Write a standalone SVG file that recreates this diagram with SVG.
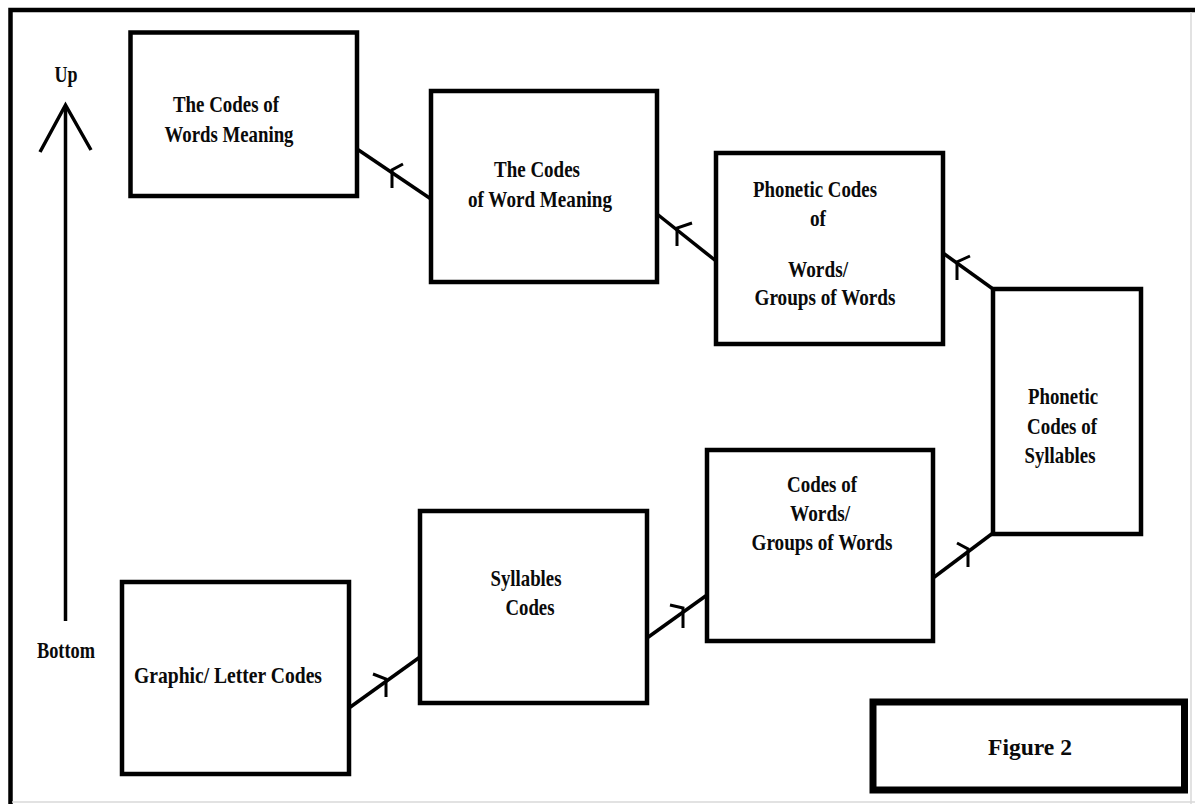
<svg xmlns="http://www.w3.org/2000/svg" width="1195" height="804" viewBox="0 0 1195 804">
  <style>
    .box { fill: #ffffff; stroke: #000000; stroke-width: 4.5; }
    .fig { fill: #ffffff; stroke: #000000; stroke-width: 7; }
    .lbl { font-family: "Liberation Serif", "Times New Roman", serif; font-weight: bold; font-size: 22.5px; fill: #0a0a0a; text-anchor: middle; }
    .conn { fill: none; stroke: #000000; stroke-width: 3.5; stroke-linejoin: miter; }
    .head { fill: none; stroke: #000000; stroke-width: 3; }
  </style>

  <rect x="0" y="0" width="1195" height="804" fill="#ffffff"/>

  <!-- page frame -->
  <g id="frame">
    <path d="M10.5,804 L10.5,10 L1195,10" fill="none" stroke="#000000" stroke-width="4.5"/>
    <line x1="1191" y1="12" x2="1191" y2="804" stroke="#d8d8d8" stroke-width="1.5"/>
    <line x1="12" y1="802" x2="1195" y2="802" stroke="#d8d8d8" stroke-width="1.5"/>
  </g>

  <!-- vertical direction axis -->
  <g id="axis">
    <line x1="65.5" y1="106" x2="65.5" y2="621" stroke="#000000" stroke-width="3.5"/>
    <path d="M40,152 L65.5,105 L91,150" fill="none" stroke="#000000" stroke-width="3.5"/>
    <text class="lbl" x="66" y="82" font-size="21" textLength="23" lengthAdjust="spacingAndGlyphs">Up</text>
    <text class="lbl" x="66" y="658" font-size="21" textLength="58" lengthAdjust="spacingAndGlyphs">Bottom</text>
  </g>

  <g id="connectors">
    <!-- Graphic/ Letter Codes -> Syllables Codes -->
    <line class="conn" x1="349" y1="708" x2="420" y2="657"/>
    <path class="head" d="M373,674 L386,679 L386,697"/>
    <!-- Syllables Codes -> Codes of Words -->
    <line class="conn" x1="647" y1="638" x2="707" y2="595"/>
    <path class="head" d="M670,605 L683,608 L683,628"/>
    <!-- Codes of Words -> Phonetic Codes of Syllables -->
    <line class="conn" x1="933" y1="578" x2="993" y2="533"/>
    <path class="head" d="M957,543 L968,549 L968,567"/>
    <!-- Phonetic Codes of Syllables -> Phonetic Codes of Words -->
    <line class="conn" x1="993" y1="289" x2="943" y2="253"/>
    <path class="head" d="M970,256 L957,262 L957,280"/>
    <!-- Phonetic Codes of Words -> The Codes of Word Meaning -->
    <line class="conn" x1="716" y1="261" x2="657" y2="214"/>
    <path class="head" d="M692,223 L677,228 L677,246"/>
    <!-- The Codes of Word Meaning -> The Codes of Words Meaning -->
    <line class="conn" x1="431" y1="199" x2="357" y2="149"/>
    <path class="head" d="M403,164 L392,170 L392,188"/>
  </g>

  <g id="node-words-meaning">
    <rect class="box" x="130.5" y="32.5" width="226.5" height="163.5"/>
    <text class="lbl" x="226" y="112" textLength="106" lengthAdjust="spacingAndGlyphs">The Codes of</text>
    <text class="lbl" x="229" y="142" textLength="129" lengthAdjust="spacingAndGlyphs">Words Meaning</text>
  </g>

  <g id="node-word-meaning">
    <rect class="box" x="431" y="91" width="226" height="191"/>
    <text class="lbl" x="537" y="177" textLength="86" lengthAdjust="spacingAndGlyphs">The Codes</text>
    <text class="lbl" x="540" y="207" textLength="144" lengthAdjust="spacingAndGlyphs">of Word Meaning</text>
  </g>

  <g id="node-phonetic-words">
    <rect class="box" x="716" y="153" width="227" height="191"/>
    <text class="lbl" x="815" y="197" textLength="124" lengthAdjust="spacingAndGlyphs">Phonetic Codes</text>
    <text class="lbl" x="818" y="226" textLength="16" lengthAdjust="spacingAndGlyphs">of</text>
    <text class="lbl" x="818" y="277" textLength="60" lengthAdjust="spacingAndGlyphs">Words/</text>
    <text class="lbl" x="825" y="305" textLength="141" lengthAdjust="spacingAndGlyphs">Groups of Words</text>
  </g>

  <g id="node-phonetic-syllables">
    <rect class="box" x="993" y="289" width="148" height="245"/>
    <text class="lbl" x="1063" y="404" textLength="70" lengthAdjust="spacingAndGlyphs">Phonetic</text>
    <text class="lbl" x="1062" y="434" textLength="70" lengthAdjust="spacingAndGlyphs">Codes of</text>
    <text class="lbl" x="1060" y="463" textLength="71" lengthAdjust="spacingAndGlyphs">Syllables</text>
  </g>

  <g id="node-codes-words">
    <rect class="box" x="707" y="450" width="226" height="191"/>
    <text class="lbl" x="822" y="492" textLength="70" lengthAdjust="spacingAndGlyphs">Codes of</text>
    <text class="lbl" x="820" y="521" textLength="60" lengthAdjust="spacingAndGlyphs">Words/</text>
    <text class="lbl" x="822" y="550" textLength="141" lengthAdjust="spacingAndGlyphs">Groups of Words</text>
  </g>

  <g id="node-syllables">
    <rect class="box" x="420" y="511" width="227" height="192"/>
    <text class="lbl" x="526" y="586" textLength="71" lengthAdjust="spacingAndGlyphs">Syllables</text>
    <text class="lbl" x="530" y="615" textLength="49" lengthAdjust="spacingAndGlyphs">Codes</text>
  </g>

  <g id="node-graphic">
    <rect class="box" x="122" y="582" width="227" height="192"/>
    <text class="lbl" x="228" y="683" textLength="188" lengthAdjust="spacingAndGlyphs">Graphic/ Letter Codes</text>
  </g>

  <g id="caption">
    <rect class="fig" x="873" y="702" width="311.5" height="88"/>
    <text class="lbl" x="1030" y="755" font-size="27" textLength="84" lengthAdjust="spacingAndGlyphs">Figure 2</text>
  </g>
</svg>
